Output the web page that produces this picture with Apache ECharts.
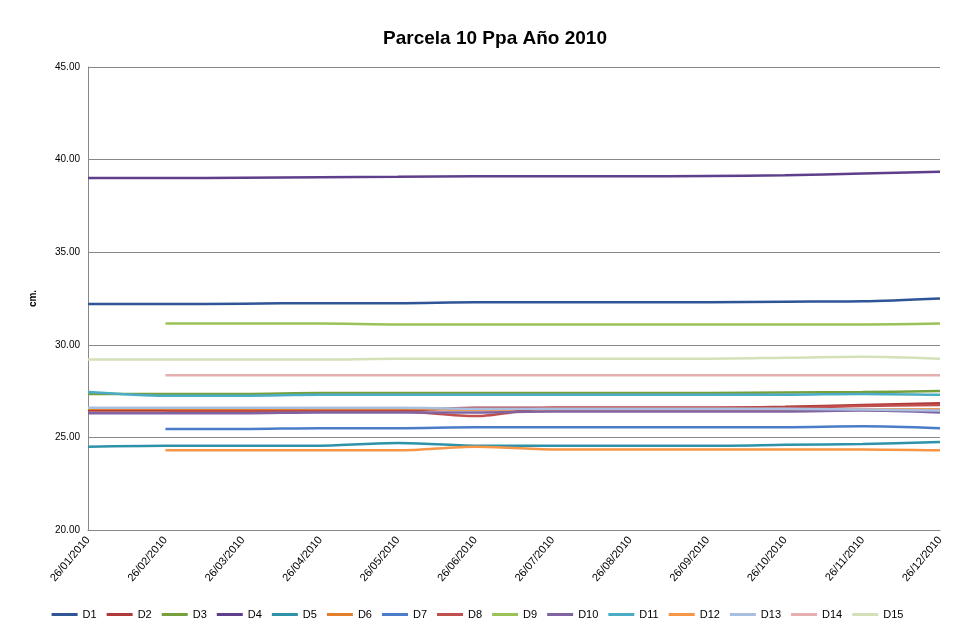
<!DOCTYPE html>
<html>
<head>
<meta charset="utf-8" />
<title>Parcela 10</title>
<script src="https://cdn.jsdelivr.net/npm/echarts@6/dist/echarts.min.js"></script>
</head>
<body style="margin:0;background:#fff;">
<div id="chart" style="width:955px;height:631px;"></div>
<script>
var dates = ['26/01/2010','26/02/2010','26/03/2010','26/04/2010','26/05/2010','26/06/2010','26/07/2010','26/08/2010','26/09/2010','26/10/2010','26/11/2010','26/12/2010'];
var names = ['D1','D2','D3','D4','D5','D6','D7','D8','D9','D10','D11','D12','D13','D14','D15'];
var colors = ['#2f5597','#b03a3a','#76a03c','#5f3f8c','#2e93a8','#e37f2a','#4a7cc9','#c0504d','#9bc256','#8064a2','#4bacc6','#f79646','#a9bfe0','#e6b0b0','#d3e0b8'];

var D1  = [32.2,32.2,32.22,32.25,32.25,32.3,32.3,32.3,32.3,32.33,32.35,32.5];
var D2  = [26.45,26.45,26.45,26.45,26.45,26.6,26.6,26.6,26.6,26.65,26.75,26.85];
var D3  = [27.35,27.35,27.35,27.4,27.4,27.4,27.4,27.4,27.4,27.42,27.45,27.5];
var D4  = [39.0,39.0,39.02,39.05,39.07,39.1,39.1,39.1,39.12,39.15,39.25,39.35];
var D5  = [24.5,24.55,24.55,24.55,24.7,24.55,24.55,24.55,24.55,24.6,24.65,24.75];
var D6  = [26.55,26.55,26.55,26.55,26.55,26.5,26.5,26.5,26.5,26.5,26.5,26.5];
var D7  = [null,25.45,25.45,25.5,25.5,25.55,25.55,25.55,25.55,25.55,25.6,25.5];
var D8  = [null,26.4,26.4,26.4,26.4,26.15,26.6,26.6,26.6,26.6,26.7,26.75];
var D9  = [null,31.15,31.15,31.15,31.1,31.1,31.1,31.1,31.1,31.1,31.1,31.15];
var D10 = [26.3,26.3,26.3,26.35,26.35,26.35,26.4,26.4,26.4,26.4,26.45,26.35];
var D11 = [27.45,27.25,27.25,27.3,27.3,27.3,27.3,27.3,27.3,27.3,27.35,27.3];
var D12 = [null,24.3,24.3,24.3,24.3,24.5,24.35,24.35,24.35,24.35,24.35,24.3];
var D13 = [26.6,26.6,26.6,26.6,26.6,26.55,26.55,26.55,26.55,26.55,26.5,26.45];
var D14 = [null,28.35,28.35,28.35,28.35,28.35,28.35,28.35,28.35,28.35,28.35,28.35];
var D15 = [29.2,29.2,29.2,29.2,29.25,29.25,29.25,29.25,29.25,29.3,29.35,29.25];
var values = [D1,D2,D3,D4,D5,D6,D7,D8,D9,D10,D11,D12,D13,D14,D15];

var series = names.map(function(n, i){
	return {name:n, type:'line', data:values[i], symbol:'none', smooth:0.3,
		lineStyle:{width:2.5, color:colors[i]}, itemStyle:{color:colors[i]}};
});

var myChart = echarts.init(document.getElementById('chart'));
myChart.setOption({
	animation:false,
	title:{text:'Parcela 10 Ppa Año 2010', left:490, top:24, textAlign:'center',
		textStyle:{fontFamily:'Liberation Sans', fontSize:19, fontWeight:'bold', color:'#000'}},
	grid:{left:88, right:15, top:67, bottom:101},
	legend:{bottom:6, left:'center', itemWidth:26, itemHeight:3, itemGap:10, icon:'rect',
		textStyle:{fontFamily:'Liberation Sans', fontSize:11, color:'#000'}},
	xAxis:{type:'category', data:dates, boundaryGap:false,
		axisLine:{lineStyle:{color:'#888'}}, axisTick:{show:false},
		axisLabel:{rotate:50, fontSize:11, color:'#000', fontFamily:'Liberation Sans', interval:0}},
	yAxis:{type:'value', min:20, max:45, interval:5, name:'cm.', nameLocation:'middle', nameGap:50,
		nameTextStyle:{fontSize:10, fontWeight:'bold', color:'#000'},
		axisLine:{show:true, lineStyle:{color:'#888'}},
		axisLabel:{formatter:function(v){return v.toFixed(2);}, fontSize:10, color:'#000', fontFamily:'Liberation Sans'},
		splitLine:{lineStyle:{color:'#888'}}},
	series:series
});
</script>
</body>
</html>
